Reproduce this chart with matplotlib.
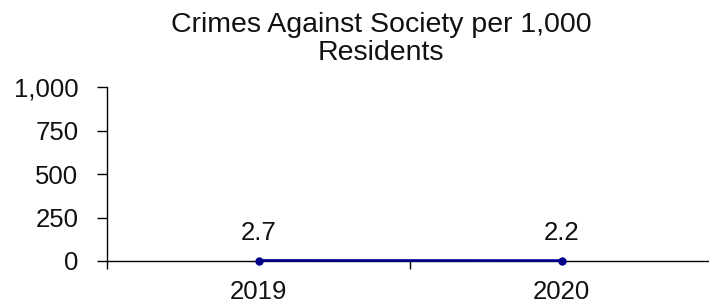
import matplotlib.pyplot as plt

plt.rcParams["font.family"] = ["Liberation Sans", "DejaVu Sans"]

years = ["2019", "2020"]
rates = [2.7, 2.2]
rate_labels = ["2.7", "2.2"]
y_ticks = [0, 250, 500, 750, 1000]
y_tick_labels = ["0", "250", "500", "750", "1,000"]

W, H = 709, 308
fig = plt.figure(figsize=(W / 100, H / 100), dpi=100)
# plot area in pixels: x 107..713, y 87..261
ax = fig.add_axes([107 / W, (H - 261) / H, 606 / W, 174 / H])

x = list(range(len(years)))
ax.plot(x, rates, color="#00008B", linewidth=2, marker="o", markersize=5, zorder=3, clip_on=False)
for xi, v, lab in zip(x, rates, rate_labels):
    ax.annotate(lab, (xi, v), xytext=(0, 20), textcoords="offset points",
                ha="center", va="center", fontsize=18.5, color="#111111")

ax.set_xlim(-0.5, len(years) - 0.5)
ax.set_ylim(0, 1000)
ax.set_yticks(y_ticks)
ax.set_yticklabels(y_tick_labels)

# category labels centred, tick marks on the category boundaries
ax.set_xticks(x)
ax.set_xticklabels(years)
ax.set_xticks([-0.5, 0.5, 1.5], minor=True)
ax.tick_params(axis="x", which="major", length=0, pad=14, labelsize=18.5, labelcolor="#111111")
ax.tick_params(axis="x", which="minor", length=6, width=1, direction="out")
ax.tick_params(axis="y", length=7, width=1, direction="out", pad=13.5, labelsize=18.5, labelcolor="#111111")

for side in ["top", "right"]:
    ax.spines[side].set_visible(False)
ax.spines["left"].set_linewidth(1)
ax.spines["bottom"].set_linewidth(1)

fig.text(381 / W, 1 - 39 / H, "Crimes Against Society per 1,000\nResidents",
         ha="center", va="center", fontsize=20.5, color="#111111", linespacing=1.1)

fig.savefig("out.png", dpi=100)
